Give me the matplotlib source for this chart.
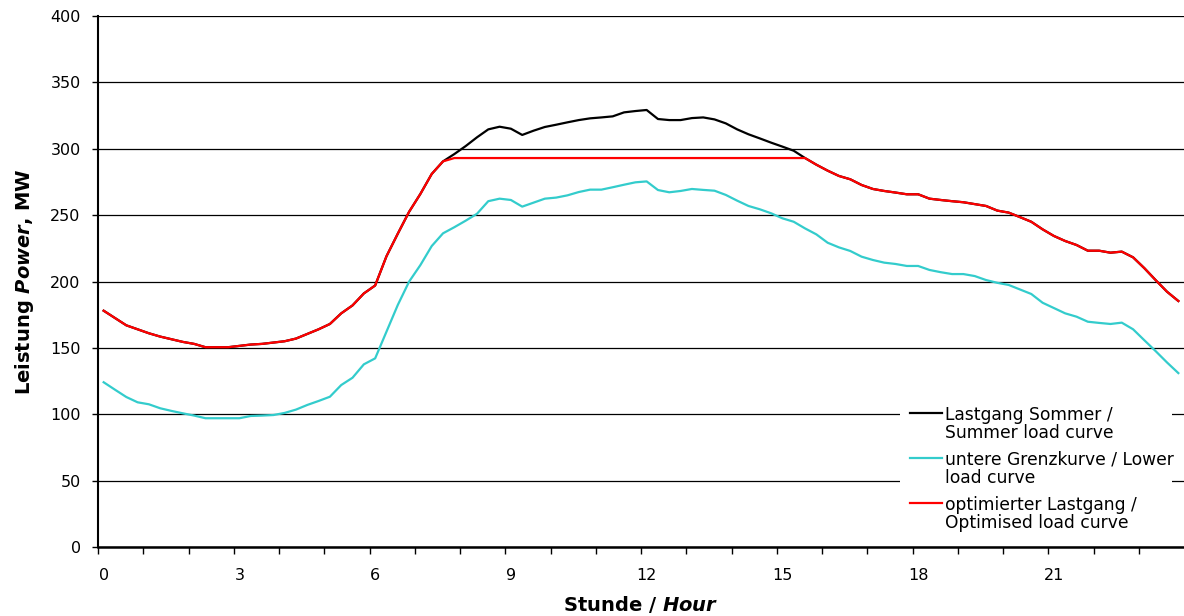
import numpy as np
import matplotlib.pyplot as plt
from matplotlib.patches import Rectangle

plt.rcParams['font.family'] = ['DejaVu Sans']
plt.rcParams['mathtext.fontset'] = 'custom'
plt.rcParams['mathtext.bfit'] = 'DejaVu Sans:italic:bold'

# quarter-hour steps over one day
hours = np.arange(0, 24, 0.25)

summer = [
    178, 172.5, 167, 164, 161, 158.5, 156.5, 154.5,
    153, 150.5, 150.5, 150.5, 151.5, 152.5, 153, 154,
    155, 157, 160.5, 164, 168, 176, 182, 191,
    197, 219, 236, 252.5, 266, 281, 290.5, 296,
    302, 308.6, 314.6, 316.6, 315.1, 310.4, 313.6, 316.4,
    318.1, 319.9, 321.6, 322.9, 323.6, 324.4, 327.4, 328.4,
    329.2, 322.4, 321.6, 321.6, 323.1, 323.6, 322.1, 319.1,
    314.6, 310.9, 307.8, 304.6, 301.6, 298.5, 293, 288,
    283.5, 279.5, 277, 272.7, 269.7, 268.2, 267, 265.7,
    265.7, 262.4, 261.4, 260.5, 259.7, 258.3, 256.9, 253.4,
    251.9, 248.5, 245, 239.3, 234.3, 230.5, 227.5, 223.2,
    223.2, 221.7, 222.5, 218.2, 210, 201, 192.3, 185.3,
]

lower = [
    124.1, 118.5, 113, 109, 107.5, 104.5, 102.5, 100.7,
    99, 97, 97, 97, 97, 98.7, 99, 99.4,
    101, 103.5, 107, 110, 113.2, 122, 127.5, 137.6,
    142.1, 162.2, 182.3, 199.9, 212.4, 226.7, 236.3, 240.9,
    245.8, 251, 260.5, 262.4, 261.4, 256.4, 259.4, 262.4,
    263.2, 264.9, 267.4, 269.2, 269.2, 271, 272.9, 274.7,
    275.4, 268.9, 267.2, 268.2, 269.7, 269, 268.4, 265.2,
    260.9, 256.9, 254.4, 251.4, 247.6, 245, 240, 235.5,
    229.2, 225.7, 223, 218.7, 216.2, 214.2, 213.2, 211.7,
    211.7, 208.7, 207, 205.6, 205.6, 204.1, 201.1, 199,
    197.4, 194, 190.6, 184, 180, 176, 173.5, 169.7,
    168.8, 168, 169, 164, 155.7, 147.5, 139, 131,
]

optimised = [
    178, 172.5, 167, 164, 161, 158.5, 156.5, 154.5,
    153, 150.5, 150.5, 150.5, 151.5, 152.5, 153, 154,
    155, 157, 160.5, 164, 168, 176, 182, 191,
    197, 219, 236, 252.5, 266, 281, 290.5, 293,
    293, 293, 293, 293, 293, 293, 293, 293,
    293, 293, 293, 293, 293, 293, 293, 293,
    293, 293, 293, 293, 293, 293, 293, 293,
    293, 293, 293, 293, 293, 293, 293, 288,
    283.5, 279.5, 277, 272.7, 269.7, 268.2, 267, 265.7,
    265.7, 262.4, 261.4, 260.5, 259.7, 258.3, 256.9, 253.4,
    251.9, 248.5, 245, 239.3, 234.3, 230.5, 227.5, 223.2,
    223.2, 221.7, 222.5, 218.2, 210, 201, 192.3, 185.3,
]

labels = ['Lastgang Sommer /\nSummer load curve',
          'untere Grenzkurve / Lower\nload curve',
          'optimierter Lastgang /\nOptimised load curve']
colors = ['black', '#33CCCC', '#FF0000']

fig = plt.figure(figsize=(11.84, 6.16), dpi=100)
ax = fig.add_axes([98 / 1184, 69 / 616, 1086 / 1184, 531 / 616])

for vals, c in zip([summer, lower, optimised], colors):
    ax.plot(hours, vals, color=c, lw=1.6, zorder=2)

ax.set_xlim(-0.125, 23.875)
ax.set_ylim(0, 400)
ax.set_yticks(np.arange(0, 401, 50))
ax.set_xticks(np.arange(0, 22, 3))
ax.set_xticks(np.arange(0, 24) - 0.125, minor=True)
ax.tick_params(axis='x', which='major', length=0, pad=15, labelsize=11.5)
ax.tick_params(axis='x', which='minor', length=5, width=1, direction='out')
ax.tick_params(axis='y', length=4.5, width=1, pad=8, labelsize=11.5)

ax.set_axisbelow(True)
ax.yaxis.grid(True, color='black', lw=0.9)
for s in ['top', 'right']:
    ax.spines[s].set_visible(False)
ax.spines['left'].set_linewidth(1.5)
ax.spines['bottom'].set_linewidth(1.8)

ax.set_ylabel(r'Leistung $\mathbfit{Power}$, MW', fontsize=14, fontweight='bold', labelpad=10)
ax.set_xlabel(r'Stunde / $\mathbfit{Hour}$', fontsize=14, fontweight='bold', labelpad=8)

# legend drawn by hand so each handle sits on the first text line
ax.add_patch(Rectangle((0.7385, 0.0226), 0.2505, 0.2544, transform=ax.transAxes,
                       facecolor='white', edgecolor='none', zorder=3))
for i, (lab, c) in enumerate(zip(labels, colors)):
    yl = 0.2524 - i * 0.0848
    ax.plot([0.7477, 0.7772], [yl, yl], color=c, lw=1.6, transform=ax.transAxes,
            zorder=4, clip_on=False)
    ax.text(0.7795, yl + 0.0135, lab, transform=ax.transAxes, va='top', ha='left',
            fontsize=12.3, linespacing=1.0, zorder=4)

fig.savefig('out.png', dpi=100)
